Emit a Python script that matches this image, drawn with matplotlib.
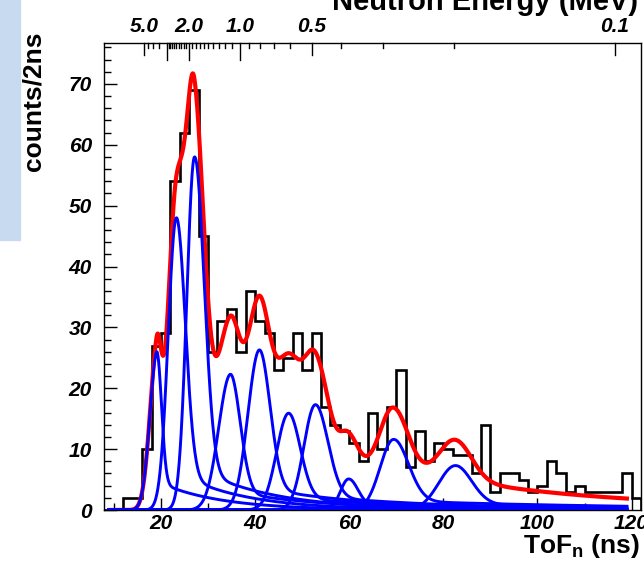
import numpy as np
import matplotlib
matplotlib.use("Agg")
import matplotlib.pyplot as plt
from matplotlib.patches import Rectangle
from matplotlib.transforms import blended_transform_factory
from math import erf, sqrt

# ---- measured ToF spectrum (2 ns bins, first bin starts at 8 ns) ----
bin_start = 8.0
bin_width = 2.0
counts = [0, 0, 2, 2, 10, 27, 29, 54, 62, 69, 45, 26, 31, 33, 26, 36, 31, 29,
          23, 25, 29, 23, 29, 17, 14, 13, 11, 8, 16, 10, 17, 23, 7, 13, 8, 11,
          10, 9, 9, 6, 14, 3, 6, 6, 5, 3, 4, 8, 6, 3, 4, 3, 3, 3, 3, 6, 2]

# ---- fitted response components (peak position, peak height, shape) ----
peak_tof = [19.05, 23.2, 27.07, 34.65, 40.8, 47.0, 52.7, 59.8, 69.3, 82.4]
peak_height = [26.0, 48.0, 58.0, 22.3, 26.3, 15.9, 17.3, 5.1, 11.6, 7.3]
sigma_left = [1.5, 1.7, 1.6, 2.5, 2.4, 2.5, 2.4, 1.7, 2.8, 3.5]
sigma_right = [1.0, 1.9, 2.05, 2.1, 2.3, 2.5, 2.7, 2.0, 3.2, 3.5]
tail_frac = [0.20, 0.14, 0.13, 0.15, 0.15, 0.14, 0.14, 0.14, 0.14, 0.14]
tail_len = [13.0, 14.0, 16.0, 20.0, 24.0, 28.0, 30.0, 35.0, 55.0, 60.0]
fit_range = (9.0, 119.0)

# ---- top energy axis ----
flight_path_m = 0.509
energy_labels = [5.0, 2.0, 1.0, 0.5, 0.1]
energy_long = [3.0, 2.0, 1.0]
energy_mid = [5.0, 0.5, 0.1]
energy_short = [4.5, 4.0, 3.5, 2.9, 2.8, 2.7, 2.6, 2.5, 2.4, 2.3, 2.2, 2.1,
                1.9, 1.8, 1.7, 1.6, 1.5, 1.4, 1.3, 1.2, 1.1,
                0.9, 0.8, 0.7, 0.6, 0.4, 0.3, 0.2]

xlim = (8.0, 122.0)
ylim = (0.0, 76.8)

erfv = np.vectorize(erf)


def tof_from_energy(e_mev):
    # non-relativistic neutron: t[ns] = 72.3 * L[m] / sqrt(E[MeV])
    return 72.3 * flight_path_m / np.sqrt(np.asarray(e_mev, dtype=float))


def response(x, mu, sl, sr, f, lam):
    d = x - mu
    core = np.where(d < 0, np.exp(-0.5 * (d / sl) ** 2), np.exp(-0.5 * (d / sr) ** 2))
    turn_on = 0.5 * (1 + erfv(d / (sr * sqrt(2))))
    tail = turn_on * np.exp(-np.clip(d, 0, None) / lam)
    y = core + f * tail
    return y / y.max()


W, H = 644, 561
fig = plt.figure(figsize=(W / 100, H / 100), dpi=100)
fig.patches.append(Rectangle((0, 1 - 240 / H), 20 / W, 240 / H,
                             transform=fig.transFigure, color="#c8daf0", zorder=0))

ax_h_px = 510 - 42.5
ax = fig.add_axes([104.5 / W, (H - 510) / H, (641 - 104.5) / W, ax_h_px / H])
ax.set_xlim(*xlim)
ax.set_ylim(*ylim)

edges = bin_start + bin_width * np.arange(len(counts) + 1)
ax.stairs(counts, edges, color="black", lw=1.9, zorder=2)

xs = np.linspace(fit_range[0], fit_range[1], 2000)
parts = [h * response(xs, m, sl, sr, f, lam)
         for m, h, sl, sr, f, lam in zip(peak_tof, peak_height, sigma_left,
                                         sigma_right, tail_frac, tail_len)]
total = np.sum(parts, axis=0)
ax.plot(xs, total, color="#ff0000", lw=3.0, zorder=3)
for p in parts:
    ax.plot(xs, p, color="#0000ff", lw=2.1, zorder=4)

tick_fp = matplotlib.font_manager.FontProperties(family="Liberation Sans", weight="bold",
                                                 style="italic", size=15)

ax.set_xticks([20, 40, 60, 80, 100, 120])
ax.set_xticks([10, 30, 50, 70, 90, 110], minor=True)
ax.set_yticks(np.arange(0, 71, 10))
ax.set_yticks(np.arange(0, 77, 2), minor=True)
ax.tick_params(which="both", direction="in", top=False, right=False, width=1.0)
ax.tick_params(which="major", length=9)
ax.tick_params(which="minor", length=5)
ax.tick_params(axis="x", pad=3)
ax.tick_params(axis="y", pad=9)
for lab in ax.get_xticklabels() + ax.get_yticklabels():
    lab.set_fontproperties(tick_fp)
for sp in ax.spines.values():
    sp.set_linewidth(1.0)

# energy scale along the top edge
trans = blended_transform_factory(ax.transData, ax.transAxes)
for group, length_px in ((energy_long, 17), (energy_mid, 12), (energy_short, 5)):
    for t in tof_from_energy(group):
        ax.plot([t, t], [1.0, 1.0 - length_px / ax_h_px], transform=trans,
                color="black", lw=1.0, clip_on=False, zorder=5)
for e, t in zip(energy_labels, tof_from_energy(energy_labels)):
    ax.text(t, 1.0 + 10.8 / ax_h_px, f"{e:.1f}", transform=trans, ha="center",
            va="baseline", fontproperties=tick_fp)

plt.rcParams["mathtext.fontset"] = "custom"
plt.rcParams["mathtext.bf"] = "Liberation Sans:bold"
fig.text(638 / W, 1 - 9.5 / H, "Neutron Energy (MeV)", ha="right", va="baseline",
         family="Liberation Sans", weight="bold", size=21)
fig.text(640 / W, 1 - 553 / H, r"ToF$_\mathbf{n}$ (ns)", ha="right", va="baseline",
         family="Liberation Sans", weight="bold", size=19)
fig.text(34 / W, 1 - 101 / H, "counts/2ns", rotation=90, ha="center", va="center",
         family="Liberation Sans", weight="bold", size=19)

fig.savefig("out.png", dpi=100)
